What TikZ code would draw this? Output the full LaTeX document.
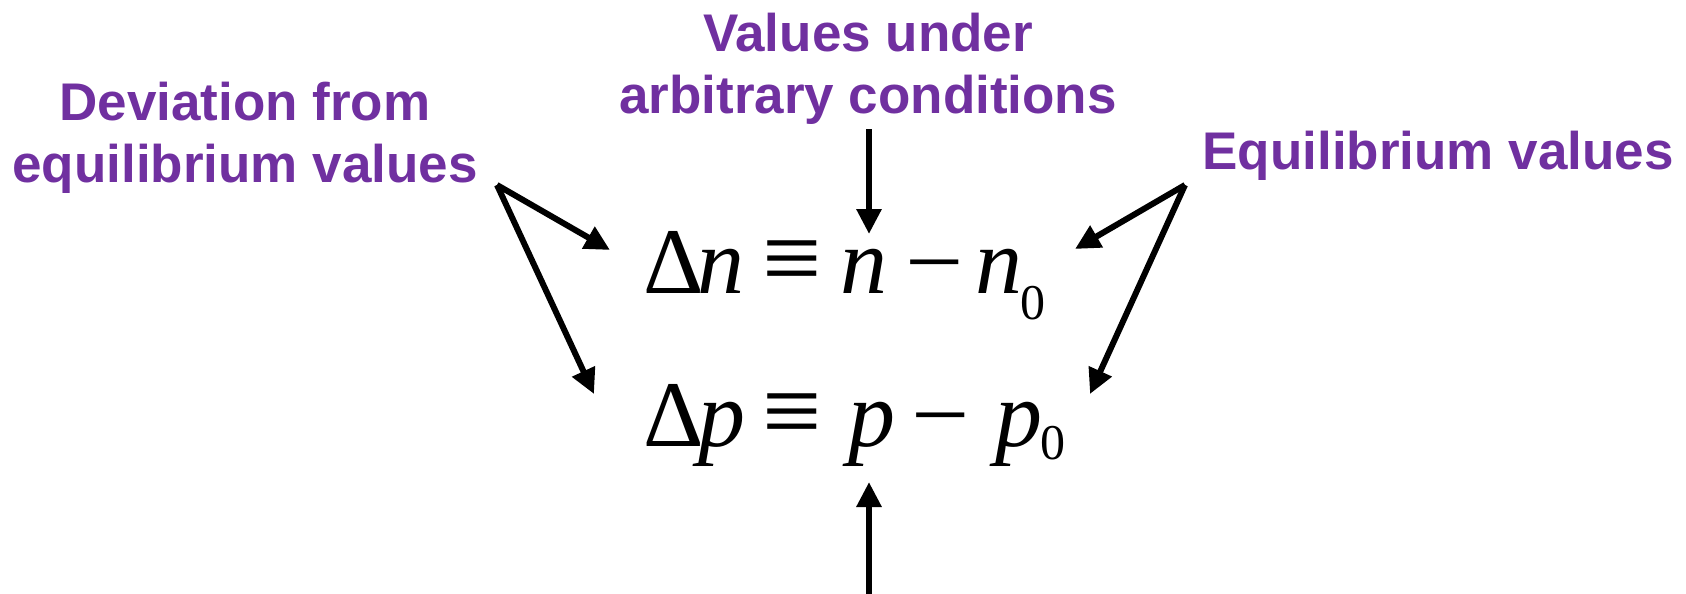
\documentclass[tikz,border=0pt]{standalone}
\usepackage{fontspec}
\setmainfont{Liberation Serif}
\newfontfamily\lsans{Liberation Sans}
\usetikzlibrary{arrows.meta}
\definecolor{lblpurple}{RGB}{112,48,160}
\newlength\pxu
\setlength\pxu{0.5pt}
\newcommand{\glyphat}[2]{\rlap{\hspace{#1\pxu}#2}}
\newcommand{\subzero}[1]{\raisebox{#1}{\fontsize{25}{25}\selectfont 0}}
\newcommand{\idt}{\scalebox{1.12}{≡}}
\newcommand{\mns}{\scalebox{1.1}[1]{−}}
\tikzset{
  lbl/.style={text=lblpurple, font=\lsans\bfseries\fontsize{26.5}{31}\selectfont, align=center, inner sep=0pt},
  eqtext/.style={font=\fontsize{47}{50}\selectfont, inner sep=0pt, anchor=base west},
  arr/.style={line width=3pt, -{Triangle[length=12.5pt,width=12pt]}},
}
\begin{document}
\begin{tikzpicture}[x=0.5pt,y=-0.5pt]
\useasboundingbox (0,0) rectangle (1686,594);
% labels
\node[lbl, anchor=base] (vals) at (868,113) {Values under\\arbitrary conditions};
\node[lbl, anchor=base] (dev) at (245,182) {Deviation from\\equilibrium values};
\node[lbl, anchor=base west] (equ) at (1202,169) {Equilibrium values};
% equations
\node[eqtext] (eqn) at (642,293) {\glyphat{0}{Δ}\glyphat{54}{\textit{n}}\glyphat{119}{\idt}\glyphat{197}{\textit{n}}\glyphat{262}{\mns}\glyphat{332}{\textit{n}}\glyphat{377}{\subzero{-13pt}}\hspace{405\pxu}};
\node[eqtext] (eqp) at (642,446) {\glyphat{0}{Δ}\glyphat{55}{\textit{p}}\glyphat{119}{\idt}\glyphat{205}{\textit{p}}\glyphat{268}{\mns}\glyphat{352}{\textit{p}}\glyphat{397}{\subzero{-6.5pt}}\hspace{425\pxu}};
% connector anchors
\coordinate (ls) at (497,185);
\coordinate (lt1) at (610,250);
\coordinate (lt2) at (594,394);
\coordinate (rs) at (1185,185);
\coordinate (rt1) at (1075,249);
\coordinate (rt2) at (1090,394);
\coordinate (ds) at (869,129);
\coordinate (dt) at (869,234);
\coordinate (us) at (869,594);
\coordinate (ut) at (869,482);
\draw[arr] (ls) -- (lt1);
\draw[arr] (ls) -- (lt2);
\draw[arr] (rs) -- (rt1);
\draw[arr] (rs) -- (rt2);
\draw[arr] (ds) -- (dt);
\draw[arr] (us) -- (ut);
\end{tikzpicture}
\end{document}
